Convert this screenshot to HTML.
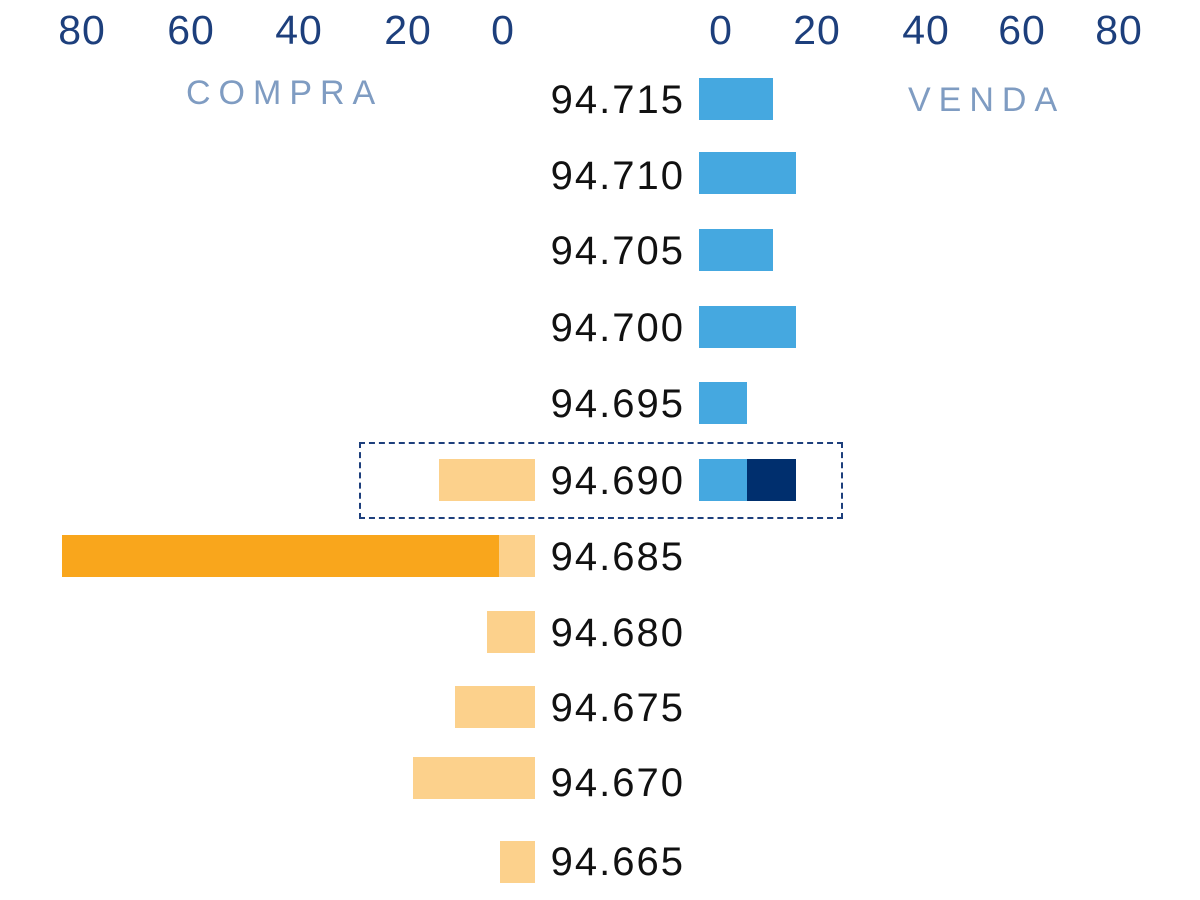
<!DOCTYPE html>
<html><head><meta charset="utf-8"><style>
html,body{margin:0;padding:0;background:#fff;}
body{width:1200px;height:900px;position:relative;overflow:hidden;font-family:"Liberation Sans",sans-serif;}
.t{position:absolute;top:7px;font-size:41px;color:#1d3f7c;transform:translateX(-50%);line-height:46px;letter-spacing:1px;}
.p{position:absolute;right:515px;font-size:40px;color:#111;line-height:44px;letter-spacing:2px;}
.b{position:absolute;height:42px;}
.lb{background:#45a8e0}.nv{background:#002f6e}.lo{background:#fcd18c}.or{background:#f9a61c}
.h{position:absolute;font-size:34px;letter-spacing:8px;color:#7f9cc2;line-height:40px;}
</style></head><body>
<div class="t" style="left:82px">80</div>
<div class="t" style="left:191px">60</div>
<div class="t" style="left:299px">40</div>
<div class="t" style="left:408px">20</div>
<div class="t" style="left:503px">0</div>
<div class="t" style="left:721px">0</div>
<div class="t" style="left:817px">20</div>
<div class="t" style="left:926px">40</div>
<div class="t" style="left:1022px">60</div>
<div class="t" style="left:1119px">80</div>
<div class="h" style="left:186px;top:73px">COMPRA</div>
<div class="h" style="left:908px;top:80px">VENDA</div>

<div class="p" style="top:78px">94.715</div>
<div class="p" style="top:154px">94.710</div>
<div class="p" style="top:229px">94.705</div>
<div class="p" style="top:306px">94.700</div>
<div class="p" style="top:382px">94.695</div>
<div class="p" style="top:459px">94.690</div>
<div class="p" style="top:535px">94.685</div>
<div class="p" style="top:611px">94.680</div>
<div class="p" style="top:686px">94.675</div>
<div class="p" style="top:761px">94.670</div>
<div class="p" style="top:840px">94.665</div>

<div class="b lb" style="left:699px;width:74px;top:78px"></div>
<div class="b lb" style="left:699px;width:97px;top:152px"></div>
<div class="b lb" style="left:699px;width:74px;top:229px"></div>
<div class="b lb" style="left:699px;width:97px;top:306px"></div>
<div class="b lb" style="left:699px;width:48px;top:382px"></div>
<div class="b lb" style="left:699px;width:48px;top:459px"></div>
<div class="b nv" style="left:747px;width:49px;top:459px"></div>

<div class="b lo" style="left:439px;width:96px;top:459px"></div>
<div class="b or" style="left:62px;width:437px;top:535px"></div>
<div class="b lo" style="left:499px;width:36px;top:535px"></div>
<div class="b lo" style="left:487px;width:48px;top:611px"></div>
<div class="b lo" style="left:455px;width:80px;top:686px"></div>
<div class="b lo" style="left:413px;width:122px;top:757px"></div>
<div class="b lo" style="left:500px;width:35px;top:841px"></div>

<div style="position:absolute;left:359px;top:442px;width:480px;height:73px;border:2px dashed #1d3f7c;"></div>
</body></html>
